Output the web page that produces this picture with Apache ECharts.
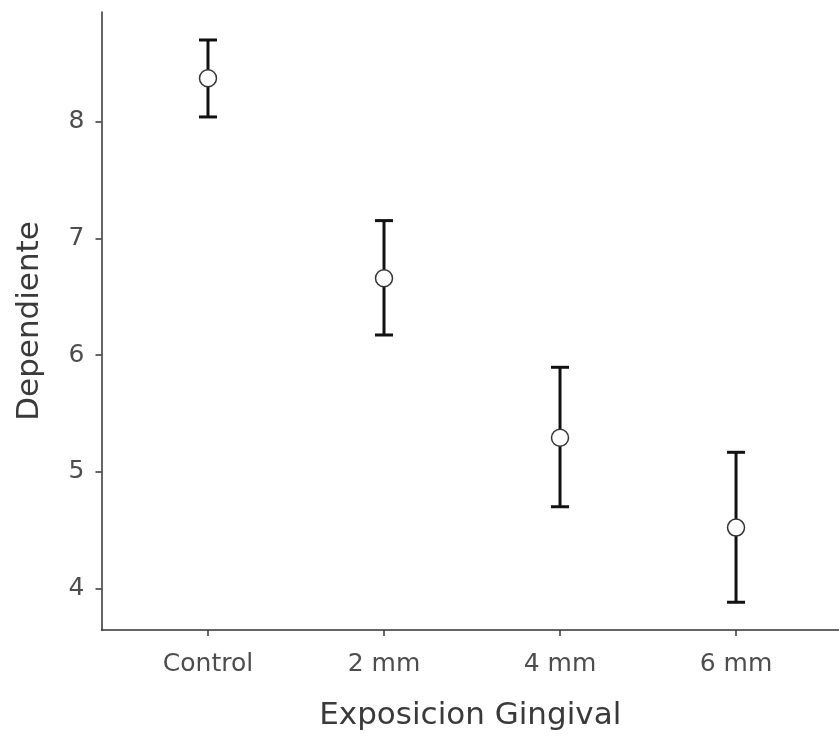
<!DOCTYPE html>
<html>
<head>
<meta charset="utf-8">
<script src="https://cdn.jsdelivr.net/npm/echarts@6/dist/echarts.min.js"></script>
<style>html,body{margin:0;padding:0;background:#fff;}#c{width:839px;height:742px;}</style>
</head>
<body>
<div id="c"></div>
<script>
var categories = ['Control', '2 mm', '4 mm', '6 mm'];
var means = [8.375, 6.66, 5.292, 4.521];
var upper = [8.703, 7.154, 5.896, 5.167];
var lower = [8.043, 6.173, 4.70, 3.881];
var yTicks = [4, 5, 6, 7, 8];
var xPositions = [1, 2, 3, 4];

var FONT = 'DejaVu Sans';
var chart = echarts.init(document.getElementById('c'), null, {renderer: 'canvas'});

var barData = categories.map(function (c, i) { return [xPositions[i], lower[i], upper[i]]; });
var pointData = categories.map(function (c, i) { return [xPositions[i], means[i]]; });

chart.setOption({
  animation: false,
  backgroundColor: '#ffffff',
  grid: {left: 101.5, right: 0, top: 12, bottom: 112, containLabel: false},
  xAxis: {
    type: 'value', min: 0.395, max: 4.585,
    name: 'Exposicion Gingival', nameLocation: 'middle', nameGap: 70,
    nameTextStyle: {fontFamily: FONT, fontSize: 31, color: '#3a3a3a'},
    axisLine: {show: true, onZero: false, lineStyle: {color: '#333333', width: 1.5}},
    axisTick: {show: true, length: 6, customValues: xPositions, lineStyle: {color: '#333333', width: 1.5}},
    axisLabel: {customValues: xPositions, margin: 22, fontFamily: FONT, fontSize: 25, color: '#4d4d4d',
      formatter: function (v) { return categories[Math.round(v) - 1] || ''; }},
    splitLine: {show: false}
  },
  yAxis: {
    type: 'value', min: 3.643, max: 8.943,
    name: 'Dependiente', nameLocation: 'middle', nameGap: 56, nameRotate: 90,
    nameTextStyle: {fontFamily: FONT, fontSize: 31, color: '#3a3a3a'},
    axisLine: {show: true, onZero: false, lineStyle: {color: '#333333', width: 1.5}},
    axisTick: {show: true, length: 6, customValues: yTicks, lineStyle: {color: '#333333', width: 1.5}},
    axisLabel: {customValues: yTicks, margin: 17, fontFamily: FONT, fontSize: 25, color: '#4d4d4d'},
    splitLine: {show: false}
  },
  series: [
    {
      type: 'custom',
      data: barData,
      z: 2,
      renderItem: function (params, api) {
        var x = api.value(0);
        var lo = api.coord([x, api.value(1)]);
        var hi = api.coord([x, api.value(2)]);
        var hw = 9;
        var st = {stroke: '#111111', lineWidth: 3};
        return {
          type: 'group',
          children: [
            {type: 'line', shape: {x1: lo[0], y1: lo[1], x2: hi[0], y2: hi[1]}, style: st},
            {type: 'line', shape: {x1: hi[0] - hw, y1: hi[1], x2: hi[0] + hw, y2: hi[1]}, style: st},
            {type: 'line', shape: {x1: lo[0] - hw, y1: lo[1], x2: lo[0] + hw, y2: lo[1]}, style: st}
          ]
        };
      }
    },
    {
      type: 'scatter',
      data: pointData,
      z: 3,
      symbol: 'circle',
      symbolSize: 17,
      itemStyle: {color: '#ffffff', borderColor: '#333333', borderWidth: 1.5, opacity: 1}
    }
  ]
});
</script>
</body>
</html>
